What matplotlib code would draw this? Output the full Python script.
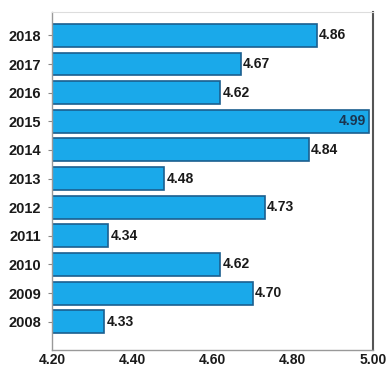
import matplotlib
matplotlib.use("Agg")
import matplotlib.pyplot as plt

years = ["2008", "2009", "2010", "2011", "2012", "2013", "2014", "2015", "2016", "2017", "2018"]
values = [4.33, 4.70, 4.62, 4.34, 4.73, 4.48, 4.84, 4.99, 4.62, 4.67, 4.86]
xticks = [4.20, 4.40, 4.60, 4.80, 5.00]
xlabels = ["4.20", "4.40", "4.60", "4.80", "5.00"]

plt.rcParams["font.family"] = ["Liberation Sans", "DejaVu Sans"]

fig = plt.figure(figsize=(3.88, 3.71), dpi=100)
ax = fig.add_axes([0.134, 0.057, 0.827, 0.911])

pos = list(range(len(years)))
ax.barh(pos, [v - 4.20 for v in values], left=4.20, height=0.8,
        color="#1aa9ea", edgecolor="#1b5f8f", linewidth=1.2)

for p, v in zip(pos, values):
    if v > 4.95:
        ax.text(v - 0.008, p, f"{v:.2f}", ha="right", va="center",
                fontsize=10, fontweight="bold", color="#1a3550")
    else:
        ax.text(v + 0.006, p, f"{v:.2f}", ha="left", va="center",
                fontsize=10, fontweight="bold", color="#1a1a1a")

ax.set_xlim(4.20, 5.00)
ax.set_ylim(-0.98, 10.82)
ax.set_yticks(pos)
ax.set_yticklabels(years, fontsize=10.5, fontweight="bold", color="#1a1a1a")
ax.set_xticks(xticks)
ax.set_xticklabels(xlabels, fontsize=10, fontweight="bold", color="#1a1a1a")
ax.tick_params(axis="y", length=3, color="#888888", pad=5)
ax.tick_params(axis="x", length=0, pad=2)

for side in ("left", "bottom"):
    ax.spines[side].set_color("#999999")
    ax.spines[side].set_linewidth(1.0)
ax.spines["right"].set_color("#555555")
ax.spines["right"].set_linewidth(1.5)
ax.spines["top"].set_color("#dddddd")
ax.spines["top"].set_linewidth(0.8)

fig.savefig("out.png", dpi=100)
